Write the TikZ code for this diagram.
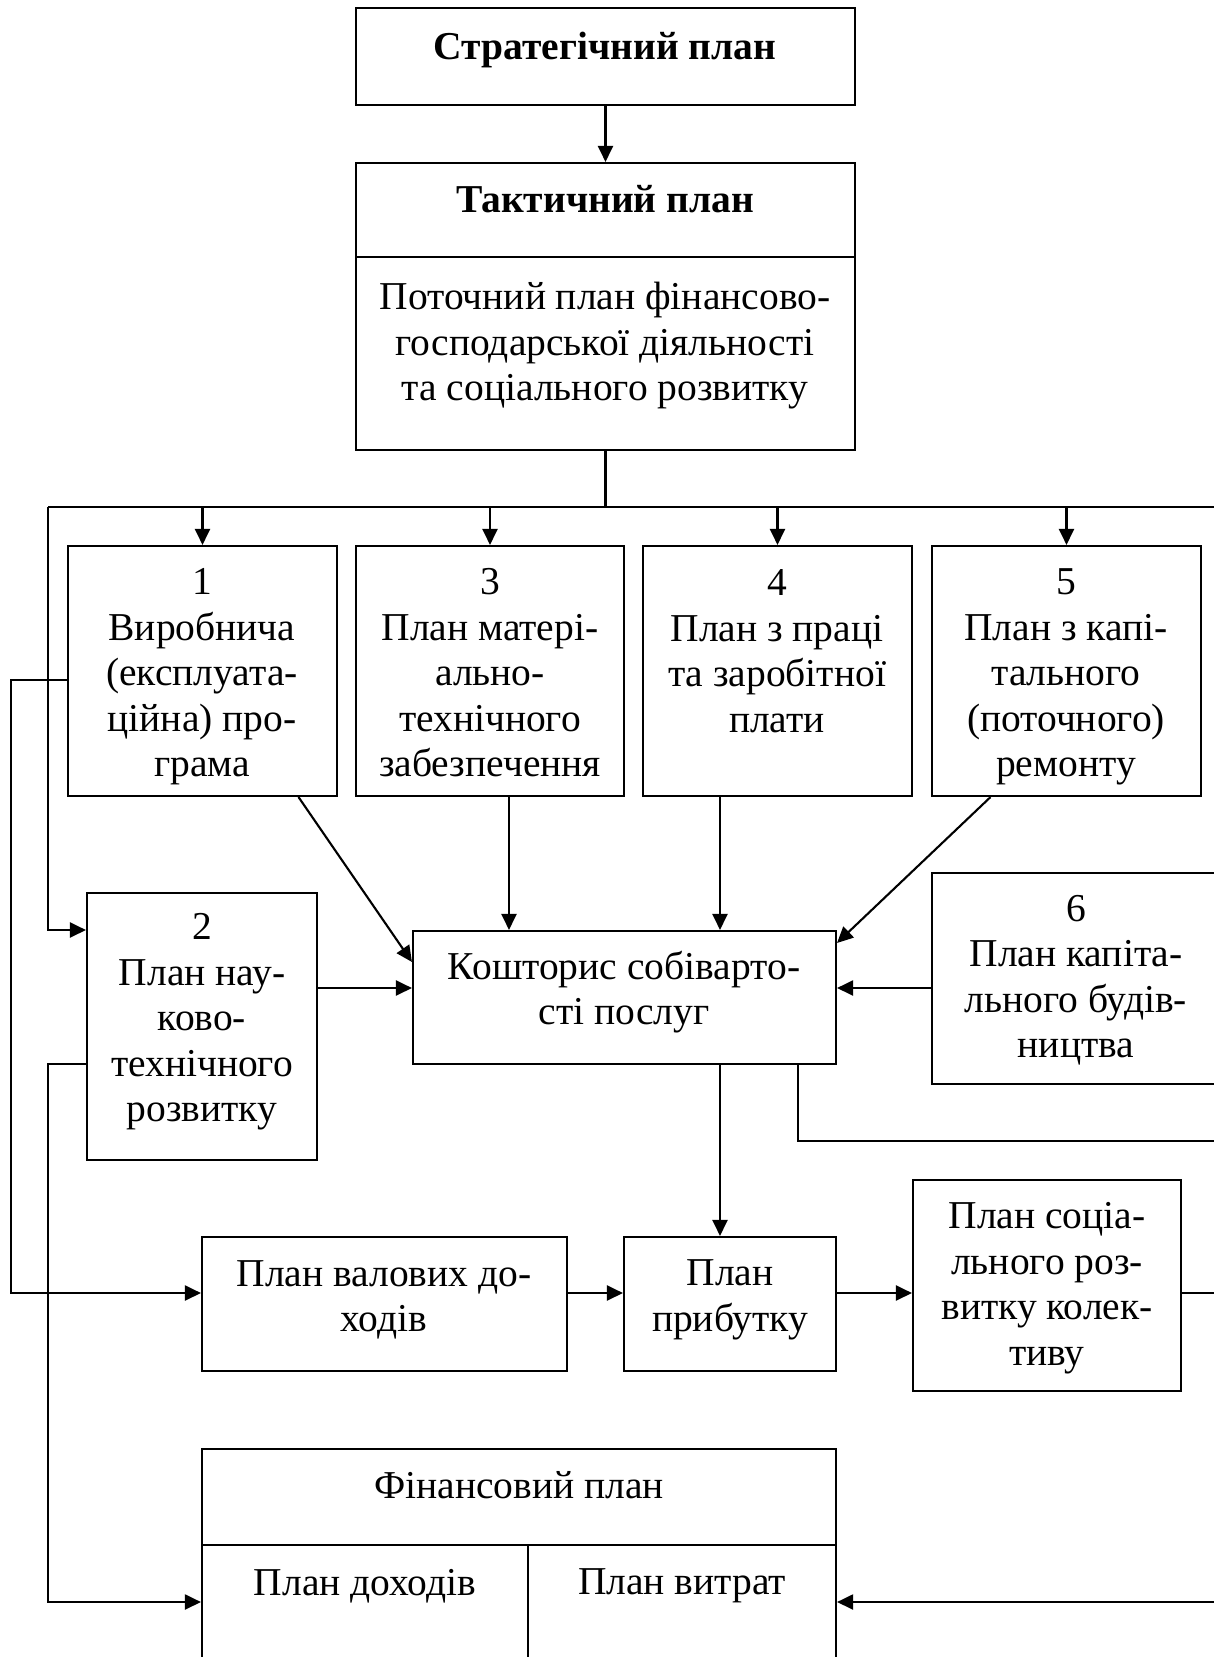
\documentclass[tikz,border=0pt]{standalone}
\usepackage{fontspec}
\setmainfont{Liberation Serif}
\usetikzlibrary{arrows.meta}
\newcommand\mybox[5]{\node[box, minimum width={#4-#2}, minimum height={#5-#3}] (#1) at ({(#2+#4)/2},{(#3+#5)/2}) {};}
\begin{document}
\begin{tikzpicture}[x=1pt,y=-1pt, line width=2.1pt,
  box/.style={draw, rectangle, inner sep=0pt, line width=2.1pt},
  txt/.style={align=center, inner sep=0pt, font=\fontsize{39.5}{45.5}\selectfont},
  arr/.style={-{Triangle[length=16pt,width=15pt]}}]
\useasboundingbox (0,0) rectangle (1214,1657);
\clip (0,0) rectangle (1214,1657);
% boxes
\mybox{S}{356}{8}{855}{105}
\mybox{Th}{356}{163}{855}{257}
\mybox{Tb}{356}{257}{855}{450}
\mybox{b1}{68}{546}{337}{796}
\mybox{b3}{356}{546}{624}{796}
\mybox{b4}{643}{546}{912}{796}
\mybox{b5}{932}{546}{1201}{796}
\mybox{b2}{87}{893}{317}{1160}
\mybox{K}{413}{931}{836}{1064}
\mybox{b6}{932}{873}{1220}{1084}
\mybox{V}{202}{1237}{567}{1371}
\mybox{P}{624}{1237}{836}{1371}
\mybox{Soc}{913}{1180}{1181}{1391}
\mybox{Fh}{202}{1449}{836}{1545}
\mybox{Fd}{202}{1545}{528}{1700}
\mybox{Fv}{528}{1545}{836}{1700}
% texts
\node[txt, font=\fontsize{39.5}{45.5}\selectfont\bfseries] (tS) at (605,50) {Стратегічний план};
\node[txt, font=\fontsize{39.5}{45.5}\selectfont\bfseries] (tTh) at (605,199) {Тактичний план};
\node[txt] (tTb) at (605,346) {Поточний план фінансово-\\господарської діяльності\\та соціального розвитку};
\node[txt] (t1) at (202,677) {1\\Виробнича\\(експлуата-\\ційна) про-\\грама};
\node[txt] (t3) at (490,673) {3\\План матері-\\ально-\\технічного\\забезпечення};
\node[txt] (t4) at (777,651) {4\\План з праці\\та заробітної\\плати};
\node[txt] (t5) at (1066,677) {5\\План з капі-\\тального\\(поточного)\\ремонту};
\node[txt] (t2) at (202,1022) {2\\План нау-\\ково-\\технічного\\розвитку};
\node[txt] (tK) at (624,992) {Кошторис собіварто-\\сті послуг};
\node[txt] (t6) at (1076,980) {6\\План капіта-\\льного будів-\\ництва};
\node[txt] (tV) at (384,1300) {План валових до-\\ходів};
\node[txt] (tP) at (730,1300) {План\\прибутку};
\node[txt] (tSoc) at (1047,1288) {План соціа-\\льного роз-\\витку колек-\\тиву};
\node[txt] (tFh) at (519,1485) {Фінансовий план};
\node[txt] (tFd) at (365,1586) {План доходів};
\node[txt] (tFv) at (682,1586) {План витрат};
% helper coordinates
\coordinate (E) at (1214,0);
\coordinate (busL) at (48,507);
\coordinate (x11) at (11,0);
\coordinate (x48) at (48,0);
\coordinate (y680) at (0,680);
\coordinate (y930) at (0,930);
\coordinate (yK) at (0,988);
\coordinate (y1064) at (0,1064);
\coordinate (y3) at (0,1293);
\coordinate (y1602) at (0,1602);
\coordinate (xa) at (509,0);
\coordinate (xb) at (720,0);
\coordinate (kr) at (798,1141);
% connectors
\draw[arr] (S) -- (Th);
\draw (Tb.south) -- (Tb.south |- busL);
\draw (E |- busL) -- (busL);
\draw[arr] (busL) -- (x48 |- y930) -- (b2.west |- y930);
\foreach \b in {b1,b3,b4,b5} \draw[arr] (\b.north |- busL) -- (\b.north);
\draw[arr] (b1.west |- y680) -- (x11 |- y680) -- (x11 |- y3) -- (V.west |- y3);
\draw[arr] (b2.west |- y1064) -- (x48 |- y1064) -- (x48 |- y1602) -- (Fd.west |- y1602);
\draw[arr] ([xshift=96pt]b1.south) -- ([yshift=-32pt]K.north west);
\draw[arr] (b3.south -| xa) -- (K.north -| xa);
\draw[arr] (b4.south -| xb) -- (K.north -| xb);
\draw[arr] ([xshift=-76pt]b5.south) -- ([yshift=-13pt]K.north east);
\draw[arr] (b2.east |- yK) -- (K.west |- yK);
\draw[arr] (b6.west |- yK) -- (K.east |- yK);
\draw[arr] (K.south -| xb) -- (P.north -| xb);
\draw (K.south -| kr) -- (kr) -- (kr -| E);
\draw[arr] (V.east |- y3) -- (P.west |- y3);
\draw[arr] (P.east |- y3) -- (Soc.west |- y3);
\draw (Soc.east |- y3) -- (E |- y3);
\draw[arr] (E |- y1602) -- (Fv.east |- y1602);
\end{tikzpicture}
\end{document}
